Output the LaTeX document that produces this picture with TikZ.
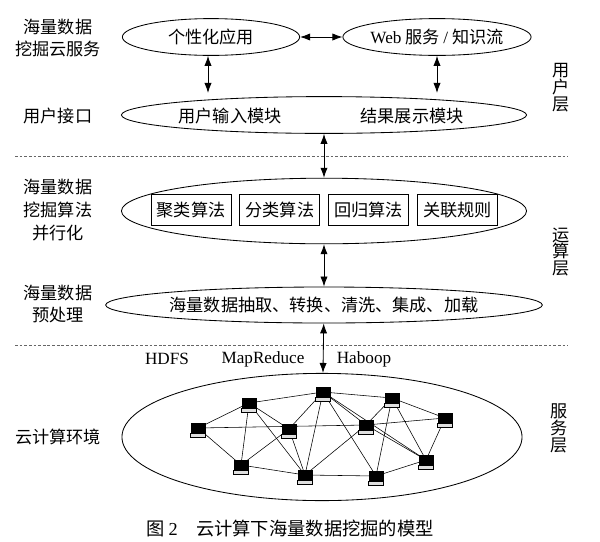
\documentclass[tikz,border=0pt]{standalone}
\usepackage{fontspec}
\setmainfont{Liberation Serif}
\newfontfamily\cjk{Noto Sans CJK SC}
\usetikzlibrary{shapes.geometric,arrows.meta,positioning,backgrounds}

\tikzset{
  oval/.style={draw,ellipse,inner sep=0pt},
  algbox/.style={draw,rectangle,minimum width=2cm,minimum height=0.78cm,inner sep=0pt},
  dbl/.style={{Latex[length=2.5mm,width=1.8mm]}-{Latex[length=2.5mm,width=1.8mm]}},
  sepline/.style={gray!80!black,line width=0.5pt,dash pattern=on 2pt off 1.3pt},
  layer/.style={align=center,font=\cjk\fontsize{12.2}{12}\selectfont},
  side/.style={align=center},
  pcbase/.style={draw,fill=gray!25,minimum width=0.38cm,minimum height=0.09cm,inner sep=0pt,line width=0.4pt},
  pc/.style={draw,fill=black,minimum width=0.35cm,minimum height=0.23cm,inner sep=0pt,label={[pcbase,label distance=0pt]below:{}}}
}

\begin{document}
\begin{tikzpicture}[x=0.025cm,y=-0.025cm,line width=0.6pt,
    font=\cjk\fontsize{12.2}{16.3}\selectfont]
    \useasboundingbox (0,0) rectangle (600,541);
    % User layer
    \node[oval,minimum width=4.43cm,minimum height=0.92cm] (app) at (211,37) {个性化应用};
    \node[oval,minimum width=4.45cm,minimum height=0.92cm] (web) at (437,37) {{\rmfamily Web} 服务 {\rmfamily /} 知识流};
    \node[oval,minimum width=10.125cm,minimum height=0.92cm] (ui) at (324,115) {};
    \node (uiIn) at (230,116) {用户输入模块};
    \node (uiOut) at (412,116) {结果展示模块};
    \draw[dbl] (app) -- (web);
    \draw[dbl,shorten >=0.08cm] (app.south -| 208,0) -- (ui.north -| 208,0);
    \draw[dbl,shorten >=0.08cm] (web.south) -- (web.south |- ui.north);
    % Left labels
    \node[side] (lbCloudSvc) at (58,38) {海量数据\\挖掘云服务};
    \node[side] (lbUi) at (58,116) {用户接口};
    \node[side] (lbAlg) at (58,210) {海量数据\\挖掘算法\\并行化};
    \node[side] (lbPre) at (58,304) {海量数据\\预处理};
    \node[side] (lbEnv) at (58,437) {云计算环境};
    % Layer names
    \node[layer] (lyUser) at (561,88) {用\\户\\层};
    \node[layer] (lyComp) at (561,252) {运\\算\\层};
    \node[layer] (lySvc) at (559,428) {服\\务\\层};
    % Separators
    \draw[sepline] (15,156) -- (568,156);
    \draw[sepline] (15,345) -- (568,345);
    % Computing layer
    \node[oval,minimum width=10.125cm,minimum height=1.64cm] (alg) at (324,211) {};
    \node[algbox] (cluster) at (191,210) {聚类算法};
    \node[algbox,right=0.2cm of cluster] (classify) {分类算法};
    \node[algbox,right=0.2cm of classify] (regress) {回归算法};
    \node[algbox,right=0.2cm of regress] (assoc) {关联规则};
    \node[oval,minimum width=10.125cm,minimum height=0.9cm] (pre) at (324,305) {海量数据抽取、转换、清洗、集成、加载};
    \draw[dbl] (ui) -- (alg);
    \draw[dbl] (alg) -- (pre);
    % Service layer
    \node[oval,minimum width=10cm,minimum height=3.18cm] (cloud) at (322,437) {};
    \draw[dbl] (pre) -- (cloud);
    \node[font=\rmfamily\fontsize{12.2}{14}\selectfont] (hdfs) at (167,359) {HDFS};
    \node[font=\rmfamily\fontsize{12.2}{14}\selectfont] (mapred) at (263,359) {MapReduce};
    \node[font=\rmfamily\fontsize{12.2}{14}\selectfont] (haboop) at (364,359) {Haboop};
    % Cloud nodes
    \foreach \n/\x/\y in {A/198/428,B/249/403,C/323/392,D/392/398,E/445/418,F/289/429,
                          G/366/425,H/241/465,I/305/475,J/376/476,K/426/460}
        \node[pc] (\n) at (\x,\y) {};
    \begin{scope}[on background layer,line width=0.6pt]
    \foreach \a/\b in {A/B,A/G,A/H,B/C,B/F,B/H,B/I,C/D,C/F,C/I,C/G,C/K,C/J,D/G,D/E,D/J,D/K,
                       G/E,G/I,G/K,F/H,F/I,H/I,I/J,J/K,E/K}
        \draw (\a.center) -- (\b.center);
    \end{scope}
    % Caption
    \node[font=\cjk\fontsize{13}{15}\selectfont] (caption) at (290,529) {图 {\rmfamily 2}\quad 云计算下海量数据挖掘的模型};
\end{tikzpicture}
\end{document}
